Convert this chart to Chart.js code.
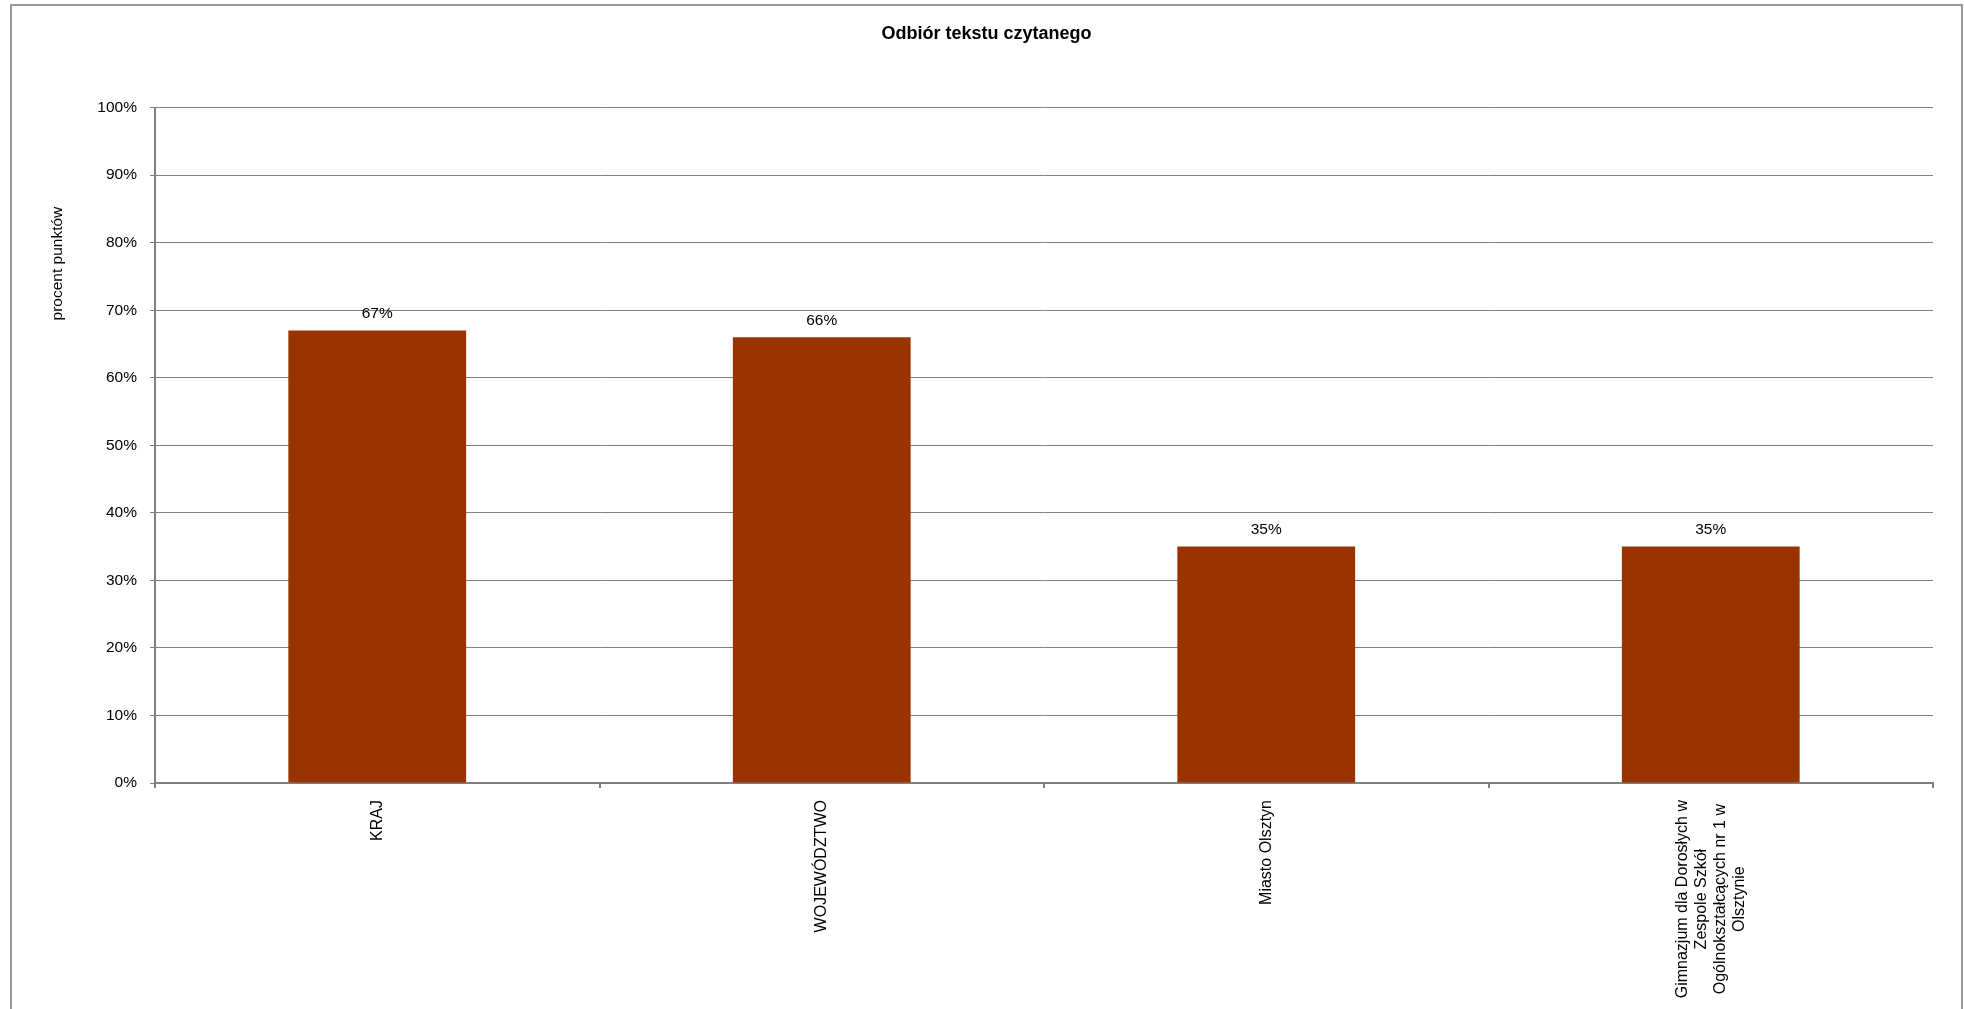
<!DOCTYPE html>
<html>
<head>
<meta charset="utf-8">
<title>Odbiór tekstu czytanego</title>
<script src="https://cdn.jsdelivr.net/npm/chart.js@4/dist/chart.umd.min.js"></script>
<style>
    html, body { margin: 0; padding: 0; background: #fff; overflow: hidden; }
    #wykres { display: block; }
</style>
</head>
<body>
<canvas id="wykres" width="1964" height="1009"></canvas>
<script>
// dane
const kategorie = [
    ['KRAJ'],
    ['WOJEWÓDZTWO'],
    ['Miasto Olsztyn'],
    ['Gimnazjum dla Dorosłych w', 'Zespole Szkół', 'Ogólnokształcących nr 1 w', 'Olsztynie']
];
const wyniki = [67, 66, 35, 35];
const podzialkaY = [0, 10, 20, 30, 40, 50, 60, 70, 80, 90, 100];

const czcionka = '"Liberation Sans", Arial, sans-serif';
const szary = '#808080';

// ramka, etykiety osi X, tytuł osi Y i wartości nad słupkami
const dodatki = {
    id: 'dodatki',
    beforeDraw(chart) {
        const ctx = chart.ctx;
        ctx.save();
        ctx.fillStyle = '#fff';
        ctx.fillRect(0, 0, chart.width, chart.height);
        ctx.strokeStyle = '#999';
        ctx.lineWidth = 2;
        ctx.strokeRect(11, 5, chart.width - 13, chart.height + 20);
        ctx.restore();
    },
    afterDraw(chart) {
        const ctx = chart.ctx;
        const area = chart.chartArea;
        const osX = chart.scales.x;
        ctx.save();
        ctx.fillStyle = '#000';

        // etykiety kategorii, obrócone o 90 stopni
        ctx.font = '16px ' + czcionka;
        kategorie.forEach((linie, i) => {
            const x = osX.getPixelForValue(i);
            const top = area.bottom + 17;
            const lh = 19;
            const maxW = Math.max(...linie.map(l => ctx.measureText(l).width));
            ctx.save();
            ctx.translate(x, top);
            ctx.rotate(-Math.PI / 2);
            ctx.textAlign = 'center';
            ctx.textBaseline = 'middle';
            linie.forEach((l, j) => {
                const dy = (j - (linie.length - 1) / 2) * lh;
                ctx.fillText(l, -maxW / 2, dy);
            });
            ctx.restore();
        });

        ctx.font = '15.5px ' + czcionka;
        // tytuł osi Y
        ctx.save();
        ctx.translate(58, area.top + 156);
        ctx.rotate(-Math.PI / 2);
        ctx.textAlign = 'center';
        ctx.textBaseline = 'middle';
        ctx.fillText('procent punktów', 0, 0);
        ctx.restore();

        // wartości nad słupkami
        const meta = chart.getDatasetMeta(0);
        ctx.textAlign = 'center';
        ctx.textBaseline = 'middle';
        meta.data.forEach((bar, i) => {
            ctx.fillText(wyniki[i] + '%', bar.x, bar.y - 17);
        });
        ctx.restore();
    }
};

const ctx = document.getElementById('wykres').getContext('2d');
new Chart(ctx, {
    type: 'bar',
    data: {
        labels: kategorie.map(k => k.join(' ')),
        datasets: [{
            label: 'procent punktów',
            data: wyniki,
            backgroundColor: '#993300',
            borderWidth: 0,
            barPercentage: 0.4,
            categoryPercentage: 1
        }]
    },
    options: {
        responsive: false,
        animation: false,
        layout: {
            padding: { left: 40, right: 31, top: 0, bottom: 0 }
        },
        plugins: {
            legend: { display: false },
            tooltip: { enabled: false },
            title: {
                display: true,
                text: 'Odbiór tekstu czytanego',
                color: '#000',
                font: { family: czcionka, size: 18, weight: 'bold' },
                padding: { top: 23, bottom: 63 }
            }
        },
        scales: {
            x: {
                grid: {
                    display: true,
                    drawOnChartArea: false,
                    drawTicks: true,
                    tickLength: 5,
                    color: szary,
                    lineWidth: 2
                },
                border: { color: szary, width: 2 },
                ticks: { display: false },
                afterFit(scale) { scale.height = 226; }
            },
            y: {
                min: 0,
                max: 100,
                afterBuildTicks(scale) {
                    scale.ticks = podzialkaY.map(v => ({ value: v }));
                },
                grid: {
                    color: szary,
                    lineWidth: 1,
                    tickLength: 5
                },
                border: { color: szary, width: 2 },
                ticks: {
                    color: '#000',
                    padding: 13,
                    font: { family: czcionka, size: 15.5 },
                    callback: v => v + '%'
                },
                afterFit(scale) { scale.width = 115; }
            }
        }
    },
    plugins: [dodatki]
});
</script>
</body>
</html>
